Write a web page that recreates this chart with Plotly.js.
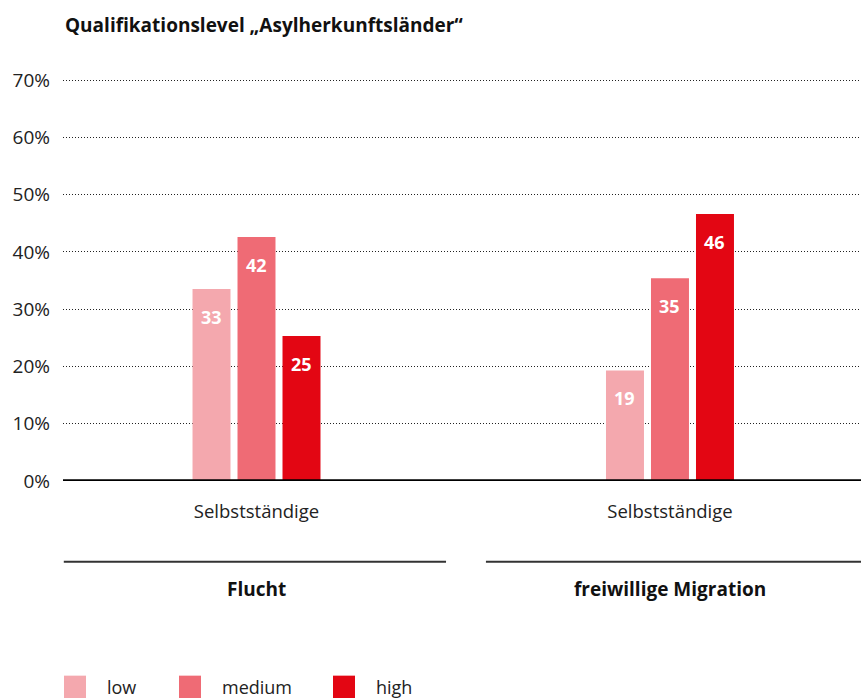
<!DOCTYPE html>
<html>
<head>
<meta charset="utf-8">
<script src="https://cdn.plot.ly/plotly-3.0.1.min.js"></script>
<style>
  body { margin: 0; background: #fff; }
  #plotDiv { width: 861px; height: 698px; }
</style>
</head>
<body>
<div id="plotDiv"></div>
<script>
var groups = ['Flucht', 'freiwillige Migration'];
var categoryLabels = ['Selbstständige', 'Selbstständige'];
var seriesNames = ['low', 'medium', 'high'];
var seriesColors = ['#f4a8ae', '#ef6b75', '#e30613'];

var lowValues = [33.5, 19.3];
var mediumValues = [42.6, 35.4];
var highValues = [25.3, 46.6];

var lowLabels = ['33', '19'];
var mediumLabels = ['42', '35'];
var highLabels = ['25', '46'];

var allValues = [lowValues, mediumValues, highValues];
var allLabels = [lowLabels, mediumLabels, highLabels];

var xPos = [0, 1];
var bargap = 0.6735;
var slot = (1 - bargap) / 3;

var font = 'Open Sans, sans-serif';

var traces = [];
var annotations = [];
for (let k = 0; k < 3; k++) {
  traces.push({
    type: 'bar',
    name: seriesNames[k],
    x: xPos,
    y: allValues[k],
    marker: { color: seriesColors[k] },
    hoverinfo: 'skip'
  });
  for (let i = 0; i < xPos.length; i++) {
    annotations.push({
      x: xPos[i] + (k - 1) * slot,
      y: allValues[k][i],
      xref: 'x', yref: 'y',
      text: allLabels[k][i],
      showarrow: false,
      yanchor: 'middle',
      yshift: -28,
      font: { family: font, size: 18, color: '#fff', weight: 'bold' }
    });
  }
}

// group titles below the axis
for (let i = 0; i < groups.length; i++) {
  annotations.push({
    x: xPos[i], xref: 'x',
    y: -0.268, yref: 'paper',
    text: '<b>' + groups[i] + '</b>',
    showarrow: false,
    yanchor: 'middle',
    font: { family: font, size: 19, color: '#111' }
  });
}

// hand-made legend (bigger squares than plotly's own)
var legendX = [64, 179, 333];
var shapes = [];
for (let k = 0; k < 3; k++) {
  var x0 = (legendX[k] - 63) / 798;
  var x1 = (legendX[k] + 22 - 63) / 798;
  shapes.push({
    type: 'rect', xref: 'paper', yref: 'paper',
    x0: x0, x1: x1, y0: -0.540, y1: -0.483,
    fillcolor: seriesColors[k], line: { width: 0 }
  });
  annotations.push({
    x: (legendX[k] + 41 - 63) / 798, xref: 'paper',
    y: -0.511, yref: 'paper',
    xanchor: 'left', yanchor: 'middle',
    text: seriesNames[k],
    showarrow: false,
    font: { family: font, size: 18, color: '#222' }
  });
}

// group divider lines
shapes.push({
  type: 'line', xref: 'paper', yref: 'paper',
  x0: 0.001, x1: 0.48, y0: -0.2005, y1: -0.2005,
  line: { color: '#333', width: 2 }
});
shapes.push({
  type: 'line', xref: 'paper', yref: 'paper',
  x0: 0.53, x1: 1, y0: -0.2005, y1: -0.2005,
  line: { color: '#333', width: 2 }
});
// baseline
shapes.push({
  type: 'line', xref: 'paper', yref: 'y',
  x0: 0, x1: 1, y0: 0, y1: 0,
  layer: 'above',
  line: { color: '#000', width: 3.5 }
});

var layout = {
  width: 861,
  height: 698,
  margin: { l: 63, r: 0, t: 78, b: 217, pad: 0 },
  paper_bgcolor: '#fff',
  plot_bgcolor: '#fff',
  font: { family: font, color: '#222' },
  title: {
    text: '<b>Qualifikationslevel „Asylherkunftsländer“</b>',
    xref: 'container', x: 0.0755, xanchor: 'left',
    yref: 'container', y: 0.964, yanchor: 'middle',
    font: { family: font, size: 19, color: '#111' }
  },
  barmode: 'group',
  bargap: bargap,
  bargroupgap: 0.156,
  showlegend: false,
  xaxis: {
    type: 'linear',
    range: [-0.468, 1.462],
    tickvals: xPos,
    ticktext: categoryLabels,
    showgrid: false,
    zeroline: false,
    showline: false,
    ticks: '',
    ticklabelstandoff: 17,
    tickfont: { family: font, size: 18.5, color: '#222' },
    fixedrange: true
  },
  yaxis: {
    range: [0, 70.35],
    tickmode: 'linear',
    tick0: 0,
    dtick: 10,
    ticksuffix: '%',
    showgrid: true,
    gridcolor: '#222',
    gridwidth: 1,
    griddash: '1px,2px',
    zeroline: false,
    showline: false,
    ticks: '',
    ticklabelstandoff: 12,
    tickfont: { family: font, size: 19, color: '#222' },
    fixedrange: true
  },
  shapes: shapes,
  annotations: annotations
};

Plotly.newPlot('plotDiv', traces, layout, { displayModeBar: false, staticPlot: true });
</script>
</body>
</html>
